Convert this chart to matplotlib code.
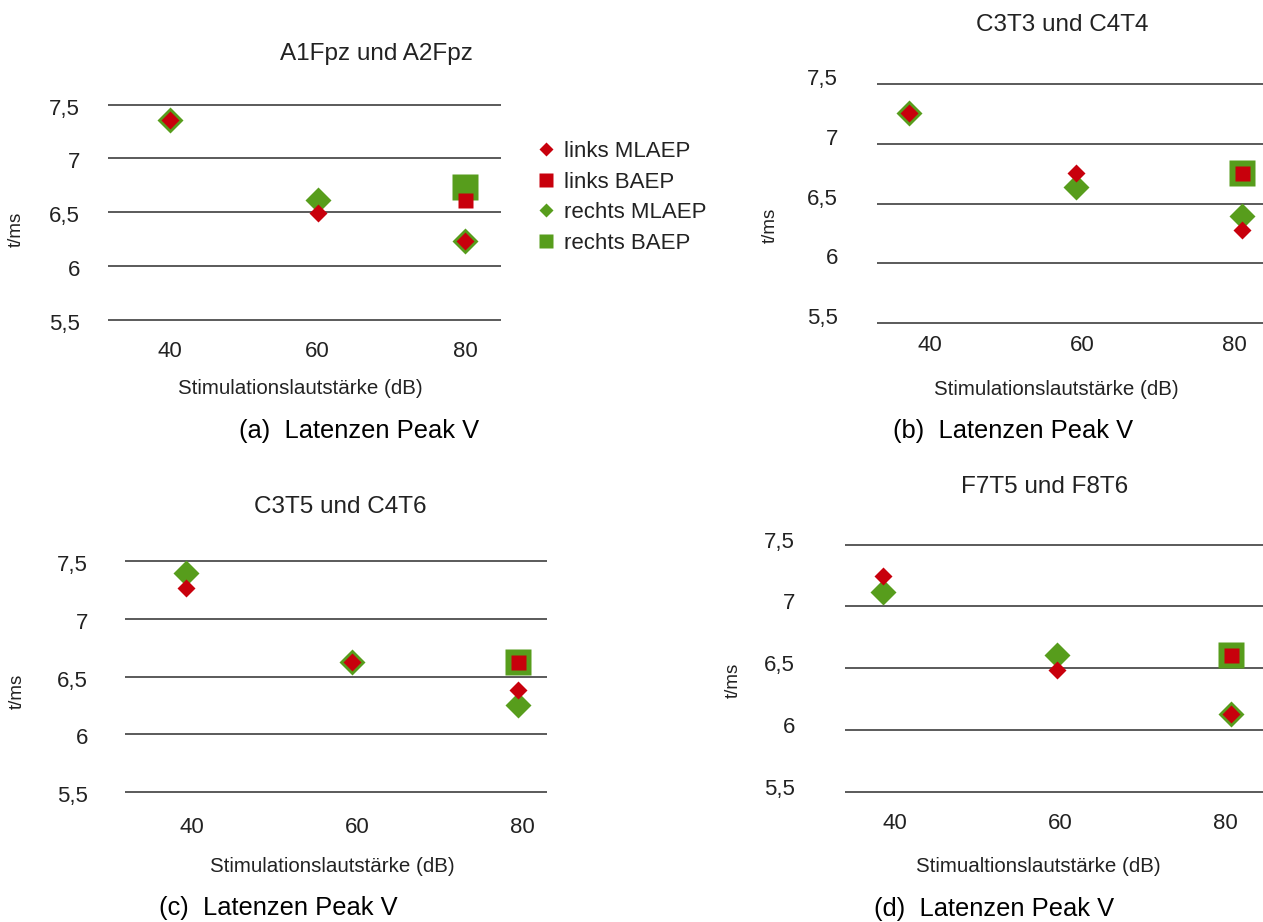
import matplotlib
matplotlib.use('Agg')
import matplotlib.pyplot as plt
from matplotlib.lines import Line2D
from matplotlib.transforms import ScaledTranslation

plt.rcParams['font.family'] = ['Liberation Sans', 'DejaVu Sans']

W, H = 1263, 922
RED = '#c8000c'
GREEN = '#579d1c'
GRID = '#5a5a5a'
TXT = '#222222'

yticks = [5.5, 6, 6.5, 7, 7.5]
ytick_labels = ['5,5', '6', '6,5', '7', '7,5']
xticks = [40, 60, 80]
xtick_labels = ['40', '60', '80']

# (a) A1Fpz / A2Fpz
a_x = [40, 60, 80]
a_x_baep = [80]
a_links_mlaep = [7.36, 6.49, 6.23]
a_rechts_mlaep = [7.36, 6.61, 6.23]
a_links_baep = [6.61]
a_rechts_baep = [6.73]

# (b) C3T3 / C4T4
b_x = [37.2, 59.2, 81.1]
b_x_baep = [81.1]
b_links_mlaep = [7.26, 6.76, 6.28]
b_rechts_mlaep = [7.26, 6.64, 6.40]
b_links_baep = [6.76]
b_rechts_baep = [6.76]

# (c) C3T5 / C4T6
c_x = [39.3, 59.4, 79.5]
c_x_baep = [79.5]
c_links_mlaep = [7.27, 6.63, 6.38]
c_rechts_mlaep = [7.40, 6.63, 6.25]
c_links_baep = [6.63]
c_rechts_baep = [6.63]

# (d) F7T5 / F8T6
d_x = [38.5, 59.6, 80.7]
d_x_baep = [80.7]
d_links_mlaep = [7.25, 6.485, 6.13]
d_rechts_mlaep = [7.12, 6.61, 6.13]
d_links_baep = [6.61]
d_rechts_baep = [6.61]

fig = plt.figure(figsize=(W / 100, H / 100), dpi=100)


def make_axes(left, right, y75, y55, x40, x80, ylab_right, ylab_dy, xlab_y):
    ppu = (y55 - y75) / 2
    top = y75 - 0.1 * ppu
    bottom = y55 + 0.1 * ppu
    ax = fig.add_axes([left / W, 1 - bottom / H, (right - left) / W, (bottom - top) / H])
    ppx = (x80 - x40) / 40
    ax.set_xlim(40 - (x40 - left) / ppx, 80 + (right - x80) / ppx)
    ax.set_ylim(5.4, 7.6)
    ax.set_yticks(yticks, ytick_labels)
    ax.set_xticks(xticks, xtick_labels)
    ax.grid(axis='y', color=GRID, lw=1.4)
    ax.set_axisbelow(True)
    for s in ax.spines.values():
        s.set_visible(False)
    ax.tick_params(length=0, labelsize=16, labelcolor=TXT)
    ax.tick_params(axis='y', pad=(left - ylab_right) / 1.389)
    ax.tick_params(axis='x', pad=(xlab_y - 8.5 - bottom) / 1.389)
    off = ScaledTranslation(0, ylab_dy / 100, fig.dpi_scale_trans)
    for lab in ax.get_yticklabels():
        lab.set_transform(lab.get_transform() + off)
    return ax


def draw_points(ax, x, x_baep, links_mlaep, rechts_mlaep, links_baep, rechts_baep):
    ax.plot(x, rechts_mlaep, ls='none', marker='D', ms=13.5, mec='none', color=GREEN)
    ax.plot(x_baep, rechts_baep, ls='none', marker='s', ms=19, mec='none', color=GREEN)
    ax.plot(x, links_mlaep, ls='none', marker='D', ms=8.8, mec='none', color=RED)
    ax.plot(x_baep, links_baep, ls='none', marker='s', ms=10.8, mec='none', color=RED)


def label(x, y, s, size, **kw):
    fig.text(x / W, 1 - y / H, s, ha='center', va='center', fontsize=size, **kw)


ax_a = make_axes(108, 501, 104.7, 319.7, 170, 465, 80, -2, 350)
draw_points(ax_a, a_x, a_x_baep, a_links_mlaep, a_rechts_mlaep, a_links_baep, a_rechts_baep)

ax_b = make_axes(877, 1263, 84, 323.3, 930, 1234, 838, 7, 344)
draw_points(ax_b, b_x, b_x_baep, b_links_mlaep, b_rechts_mlaep, b_links_baep, b_rechts_baep)

ax_c = make_axes(125, 547, 561.3, 791.7, 191.7, 522.3, 88, -2, 826)
draw_points(ax_c, c_x, c_x_baep, c_links_mlaep, c_rechts_mlaep, c_links_baep, c_rechts_baep)

ax_d = make_axes(845, 1263, 544.7, 791.7, 895, 1225.7, 795, 5, 822)
draw_points(ax_d, d_x, d_x_baep, d_links_mlaep, d_rechts_mlaep, d_links_baep, d_rechts_baep)

# titles
label(376, 54, 'A1Fpz und A2Fpz', 17.5, color=TXT)
label(1062, 25, 'C3T3 und C4T4', 17.5, color=TXT)
label(340, 507, 'C3T5 und C4T6', 17.5, color=TXT)
label(1045, 487, 'F7T5 und F8T6', 17.5, color=TXT)

# axis titles
for (x, y) in [(16, 229), (770, 225), (17, 691), (733, 680)]:
    label(x, y, 't/ms', 13.5, rotation=90, color=TXT)
label(300, 388, 'Stimulationslautstärke (dB)', 14.8, color=TXT)
label(1056, 389, 'Stimulationslautstärke (dB)', 14.8, color=TXT)
label(332, 866, 'Stimulationslautstärke (dB)', 14.8, color=TXT)
label(1038, 867, 'Stimualtionslautstärke (dB)', 14.8, color=TXT)

# captions
label(359, 431, '(a)  Latenzen Peak V', 18.4, color='black')
label(1013, 431, '(b)  Latenzen Peak V', 18.4, color='black')
label(278, 908, '(c)  Latenzen Peak V', 18.4, color='black')
label(994, 909, '(d)  Latenzen Peak V', 18.4, color='black')

handles = [
    Line2D([], [], ls='none', marker='D', ms=7.5, mec='none', color=RED),
    Line2D([], [], ls='none', marker='s', ms=10, mec='none', color=RED),
    Line2D([], [], ls='none', marker='D', ms=7.5, mec='none', color=GREEN),
    Line2D([], [], ls='none', marker='s', ms=10, mec='none', color=GREEN),
]
leg = ax_a.legend(handles, ['links MLAEP', 'links BAEP', 'rechts MLAEP', 'rechts BAEP'],
                  loc='upper left', bbox_to_anchor=(535 / W, 1 - 141 / H),
                  bbox_transform=fig.transFigure, frameon=False, fontsize=16,
                  borderpad=0, borderaxespad=0, handlelength=1.0, handletextpad=0.3,
                  labelspacing=0.43, labelcolor=TXT)

fig.savefig('out.png', dpi=100)
